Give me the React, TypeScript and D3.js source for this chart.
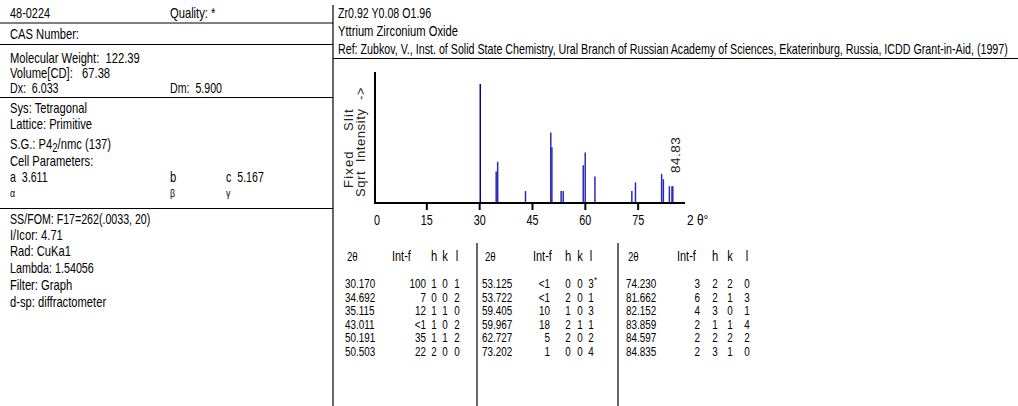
import React from "react";
import * as d3 from "d3";

// ---- data ----
const twoTheta = [30.17, 34.692, 35.115, 43.011, 50.191, 50.503, 53.125, 53.722, 59.405, 59.967, 62.727, 73.202, 74.23, 81.662, 82.152, 83.859, 84.597, 84.835];
const twoThetaText = ["30.170", "34.692", "35.115", "43.011", "50.191", "50.503", "53.125", "53.722", "59.405", "59.967", "62.727", "73.202", "74.230", "81.662", "82.152", "83.859", "84.597", "84.835"];
const intText = ["100", "7", "12", "<1", "35", "22", "<1", "<1", "10", "18", "5", "1", "3", "6", "4", "2", "2", "2"];
const intPlot = [100, 7, 12, 1, 35, 22, 1, 1, 10, 18, 5, 1, 3, 6, 4, 2, 2, 2];
const hVals = ["1", "0", "1", "1", "1", "2", "0", "2", "1", "2", "2", "0", "2", "2", "3", "1", "2", "3"];
const kVals = ["0", "0", "1", "0", "1", "0", "0", "0", "0", "1", "0", "0", "2", "1", "0", "1", "2", "1"];
const lVals = ["1", "2", "0", "2", "2", "0", "3*", "1", "3", "1", "2", "4", "0", "3", "1", "4", "2", "0"];
const xTicks = [0, 15, 30, 45, 60, 75];
const labelPeak = "84.83";
const refText = "Ref: Zubkov, V., Inst. of Solid State Chemistry, Ural Branch of Russian Academy of Sciences, Ekaterinburg, Russia, ICDD Grant-in-Aid, (1997)";

const SANS = "'Liberation Sans', Arial, sans-serif";

// Arial / Liberation Sans advance widths (per 1000 em)
const CW: Record<string, number> = {
  " ": 278, ".": 278, ",": 278, ":": 278, "-": 333, "(": 333, ")": 333, "/": 278, "=": 584, "<": 584, "*": 389, "[": 278, "]": 278, "°": 400,
  a: 556, b: 556, c: 500, d: 556, e: 556, f: 278, g: 556, h: 556, i: 222, j: 222, k: 500, l: 222, m: 833, n: 556, o: 556, p: 556, q: 556, r: 333, s: 500, t: 278, u: 556, v: 500, w: 722, x: 500, y: 500, z: 500,
  A: 667, B: 667, C: 722, D: 722, E: 667, F: 611, G: 778, H: 722, I: 278, J: 500, K: 667, L: 556, M: 833, N: 722, O: 778, P: 667, Q: 778, R: 722, S: 667, T: 611, U: 722, V: 667, W: 944, X: 667, Y: 667, Z: 611,
  "α": 578, "β": 575, "γ": 500, "θ": 556,
};
const textW = (s: string, size: number) => {
  let w = 0;
  for (const ch of s) w += CW[ch] ?? 556;
  return (w * size) / 1000;
};

type TP = { s: string; x: number; y: number; sx?: number; size?: number; anchor?: string; fill?: string };
const T = ({ s, x, y, sx = 0.8, size = 14, anchor = "start", fill = "#000" }: TP) => (
  <text
    transform={`translate(${x},${y}) scale(${sx},1)`}
    textAnchor={anchor}
    fontFamily={SANS}
    fontSize={size}
    fill={fill}
    style={{ whiteSpace: "pre" }}
  >
    {s}
  </text>
);

export default function App() {
  const W = 1018, H = 406;
  const x = d3.scaleLinear().domain([0, 90]).range([374, 691]);
  const y = d3.scaleSqrt().domain([0, 100]).range([203, 84]);
  const base = y(0);

  const groups = [
    { start: 0, tt: 345, ttH: 347, intR: 426, intH: 392, h: 434, k: 445, l: 457 },
    { start: 6, tt: 482, ttH: 485, intR: 550, intH: 533, h: 568, k: 580, l: 591 },
    { start: 12, tt: 626, ttH: 628, intR: 700, intH: 677, h: 715, k: 730, l: 747 },
  ];
  const rowY = (i: number) => 288 + i * 13.6;
  const NS = 0.76; // numeric scale
  const TS = 13; // table font size
  const refScale = 674 / textW(refText, 14);

  return (
    <div style={{ position: "absolute", left: 0, top: 0 }}>
      <svg width={W} height={H} style={{ display: "block", background: "#fff" }}>
        <rect x={0} y={0} width={W} height={H} fill="#fff" />
        {/* left panel */}
        <T s="48-0224" x={10} y={18} sx={0.78} />
        <T s="Quality: *" x={170} y={18} />
        <line x1={0} x2={333} y1={23} y2={23} stroke="#000" strokeWidth={1.2} />
        <T s="CAS Number:" x={10} y={39} />
        <line x1={0} x2={333} y1={44.5} y2={44.5} stroke="#000" strokeWidth={1.2} />
        <T s="Molecular Weight:  122.39" x={10} y={63} />
        <T s="Volume[CD]:   67.38" x={10} y={78} />
        <T s="Dx:  6.033" x={10} y={93} sx={0.76} />
        <T s="Dm:  5.900" x={170} y={93} sx={0.76} />
        <line x1={0} x2={333} y1={97.5} y2={97.5} stroke="#000" strokeWidth={1.2} />
        <T s="Sys: Tetragonal" x={10} y={113} />
        <T s="Lattice: Primitive" x={10} y={129} />
        <text transform="translate(10,149) scale(0.8,1)" fontFamily={SANS} fontSize={14} fill="#000">
          S.G.: P4<tspan dy={3} fontSize={12}>2</tspan><tspan dy={-3}>/nmc (137)</tspan>
        </text>
        <T s="Cell Parameters:" x={10} y={166} />
        <T s="a  3.611" x={10} y={182} sx={0.76} />
        <T s="b" x={170} y={182} />
        <T s="c  5.167" x={226} y={182} sx={0.76} />
        <T s="α" x={10} y={197} size={11} />
        <T s="β" x={170} y={197} size={11} />
        <T s="γ" x={226} y={197} size={11} />
        <line x1={0} x2={333} y1={208.5} y2={208.5} stroke="#000" strokeWidth={1.2} />
        <T s="SS/FOM: F17=262(.0033, 20)" x={10} y={224} sx={0.76} />
        <T s="I/Icor: 4.71" x={10} y={240} />
        <T s="Rad: CuKa1" x={10} y={256} />
        <T s="Lambda: 1.54056" x={10} y={273} sx={0.77} />
        <T s="Filter: Graph" x={10} y={290} />
        <T s="d-sp: diffractometer" x={10} y={307} />

        {/* main divider */}
        <line x1={333} x2={333} y1={5} y2={H} stroke="#000" strokeWidth={1.2} />

        {/* right header */}
        <T s="Zr0.92 Y0.08 O1.96" x={338} y={18} sx={0.76} />
        <T s="Yttrium Zirconium Oxide" x={338} y={36} />
        <T s={refText} x={338} y={54} sx={refScale} />
        <line x1={333} x2={W} y1={58.5} y2={58.5} stroke="#000" strokeWidth={1.2} />

        {/* chart */}
        <text transform={`translate(353,188) rotate(-90)`} fontFamily={SANS} fontSize={13} fill="#222" style={{ whiteSpace: "pre" }} letterSpacing={1.2}>{"Fixed    Slit"}</text>
        <text transform={`translate(365,197) rotate(-90)`} fontFamily={SANS} fontSize={13} fill="#222" style={{ whiteSpace: "pre" }} letterSpacing={0.6}>{"Sqrt  Intensity  ->"}</text>
        {twoTheta.map((t, i) => (
          <line key={i} x1={x(t)} x2={x(t)} y1={base} y2={y(intPlot[i])} stroke={i === 0 ? "#0000a8" : "#2a2ab8"} strokeWidth={1.5} />
        ))}
        <line x1={375} x2={375} y1={72} y2={base + 1} stroke="#000" strokeWidth={2} />
        <line x1={374} x2={685} y1={base} y2={base} stroke="#000" strokeWidth={2} />
        {xTicks.map((v) => (
          <g key={v}>
            {v !== 0 && <line x1={x(v)} x2={x(v)} y1={base} y2={base + 7} stroke="#000" strokeWidth={2} />}
            <T s={String(v)} x={x(v) + (v === 0 ? 3 : 0)} y={225} size={15} sx={0.72} anchor="middle" />
          </g>
        ))}
        <T s="2 θ°" x={687} y={225} size={14} sx={0.85} />
        <text transform={`translate(680,173) rotate(-90)`} fontFamily={SANS} fontSize={13.5} fill="#222" letterSpacing={0.5}>{labelPeak}</text>

        {/* table */}
        {groups.map((g, gi) => (
          <g key={gi}>
            <T s="2θ" x={g.ttH} y={261} size={12} sx={0.8} />
            <T s="Int-f" x={g.intH} y={261} sx={0.78} />
            <T s="h" x={g.h} y={261} anchor="middle" />
            <T s="k" x={g.k} y={261} anchor="middle" />
            <T s="l" x={g.l} y={261} anchor="middle" />
            {d3.range(6).map((r) => {
              const i = g.start + r;
              const ly = rowY(r);
              const lv = lVals[i];
              return (
                <g key={r}>
                  <T s={twoThetaText[i]} x={g.tt} y={ly} size={TS} sx={NS} />
                  <T s={intText[i]} x={g.intR} y={ly} size={TS} sx={NS} anchor="end" />
                  <T s={hVals[i]} x={g.h} y={ly} size={TS} sx={NS} anchor="middle" />
                  <T s={kVals[i]} x={g.k} y={ly} size={TS} sx={NS} anchor="middle" />
                  {lv.endsWith("*") ? (
                    <g>
                      <T s={lv[0]} x={g.l} y={ly} size={TS} sx={NS} anchor="middle" />
                      <T s="*" x={g.l + 3} y={ly - 5} size={9} sx={0.9} />
                    </g>
                  ) : (
                    <T s={lv} x={g.l} y={ly} size={TS} sx={NS} anchor="middle" />
                  )}
                </g>
              );
            })}
          </g>
        ))}
        <line x1={477} x2={477} y1={243} y2={H} stroke="#000" strokeWidth={1.2} />
        <line x1={618} x2={618} y1={243} y2={H} stroke="#000" strokeWidth={1.2} />
      </svg>
    </div>
  );
}
